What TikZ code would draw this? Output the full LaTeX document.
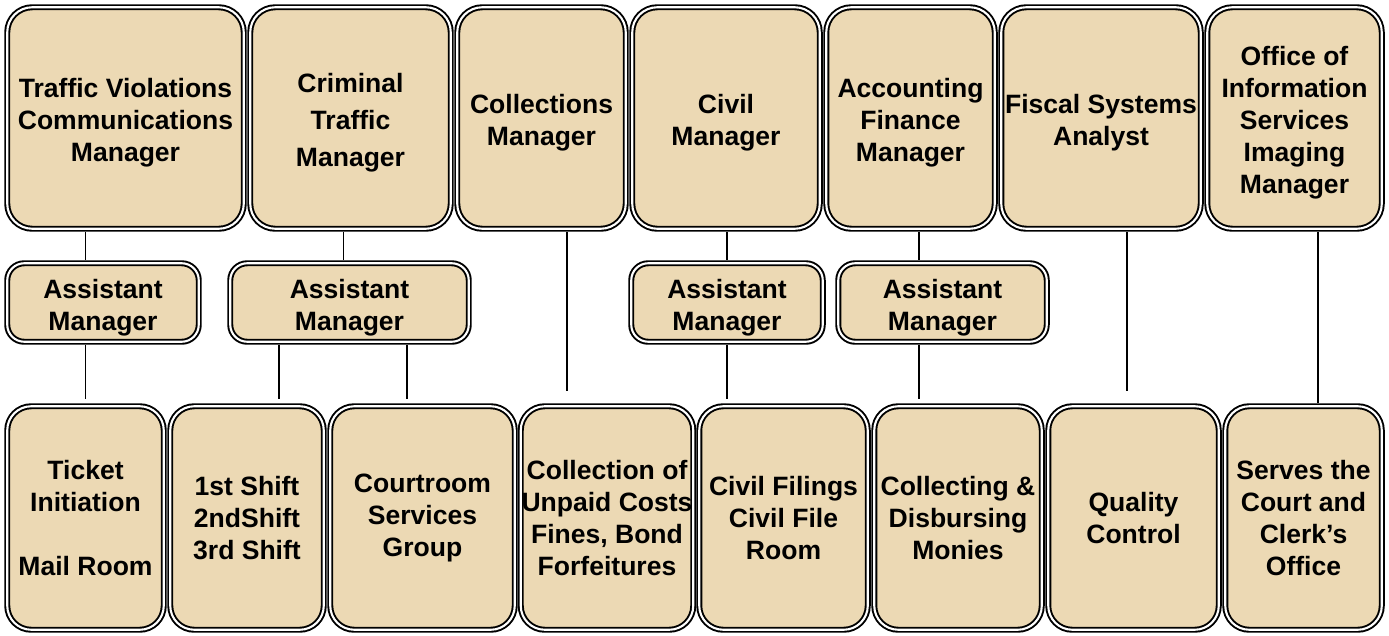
\documentclass[tikz,border=0pt]{standalone}
\usepackage{fontspec}
\setmainfont{Liberation Sans}
\usetikzlibrary{positioning}
\definecolor{parch}{RGB}{236,217,180}
\newcommand{\lift}{\rule{0pt}{16.5pt}}
\begin{document}
\begin{tikzpicture}[
    box/.style={draw=black, double=white, line width=1.1pt,
      double distance=1.2pt, fill=parch, outer sep=0.065cm,
      inner sep=0pt, align=center,
      font=\fontsize{15.1}{18.2}\selectfont\bfseries},
    mgr/.style={box, rounded corners=0.5cm, minimum height=4.43cm},
    asst/.style={box, rounded corners=0.34cm, minimum height=1.57cm},
    unit/.style={box, rounded corners=0.48cm, minimum height=4.47cm},
    link/.style={line width=0.8pt}]
  \useasboundingbox (0, 0) rectangle (27.78, -12.7);
  \pgfmathsetmacro{\ytop}{-2.36}
  \pgfmathsetmacro{\yas}{-6.05}
  \pgfmathsetmacro{\ybot}{-10.36}
  % managers
  \node[mgr, minimum width=4.73cm] (tv) at (2.51, \ytop)
       {\lift Traffic Violations\\Communications\\Manager};
  \node[mgr, minimum width=4.01cm] (ct) at (7.01, \ytop)
       {\lift Criminal\\[3pt]Traffic\\[3pt]Manager};
  \node[mgr, minimum width=3.37cm] (col) at (10.83, \ytop)
       {\lift Collections\\Manager};
  \node[mgr, minimum width=3.75cm] (civ) at (14.52, \ytop)
       {\lift Civil\\Manager};
  \node[mgr, minimum width=3.37cm] (acc) at (18.21, \ytop)
       {\lift Accounting\\Finance\\Manager};
  \node[mgr, minimum width=3.99cm] (fis) at (22.02, \ytop)
       {\lift Fiscal Systems\\Analyst};
  \node[mgr, minimum width=3.49cm] (ois) at (25.89, \ytop)
       {\lift Office of\\Information\\Services\\Imaging\\Manager};
  % assistants
  \node[asst, minimum width=3.83cm] (as1) at (2.06, \yas)
       {\lift Assistant\\Manager};
  \node[asst, minimum width=4.77cm] (as2) at (6.99, \yas)
       {\lift Assistant\\Manager};
  \node[asst, minimum width=3.83cm] (as3) at (14.54, \yas)
       {\lift Assistant\\Manager};
  \node[asst, minimum width=4.17cm] (as4) at (18.85, \yas)
       {\lift Assistant\\Manager};
  % units
  \node[unit, minimum width=3.13cm] (tick) at (1.71, \ybot)
       {Ticket\\Initiation\\~\\Mail Room};
  \node[unit, minimum width=3.07cm] (shift) at (4.94, \ybot)
       {1st Shift\\2ndShift\\3rd Shift};
  \node[unit, minimum width=3.69cm] (court) at (8.45, \ybot)
       {Courtroom\\Services\\Group};
  \node[unit, minimum width=3.45cm] (unpaid) at (12.14, \ybot)
       {Collection of\\Unpaid Costs\\Fines, Bond\\Forfeitures};
  \node[unit, minimum width=3.37cm] (filing) at (15.67, \ybot)
       {Civil Filings\\Civil File\\Room};
  \node[unit, minimum width=3.35cm] (monies) at (19.16, \ybot)
       {Collecting \&\\Disbursing\\Monies};
  \node[unit, minimum width=3.41cm] (qual) at (22.67, \ybot)
       {Quality\\Control};
  \node[unit, minimum width=3.13cm] (serve) at (26.07, \ybot)
       {Serves the\\Court and\\Clerk’s\\Office};
  % connectors
  \draw[link] (tv.south -| tick.north) -- (as1.north -| tick.north);
  \draw[link, shorten >=0.08cm] (as1.south -| tick.north) -- (tick.north);
  \draw[link] ([xshift=-0.14cm]ct.south) -- ([xshift=-0.14cm]ct.south |- as2.north);
  \draw[link, shorten >=0.08cm]
  ([xshift=-1.41cm]as2.south) -- ([xshift=-1.41cm]as2.south |- shift.north);
  \draw[link, shorten >=0.08cm]
  ([xshift=1.15cm]as2.south) -- ([xshift=1.15cm]as2.south |- court.north);
  \draw[link, shorten >=0.24cm]
  ([xshift=0.51cm]col.south) -- ([xshift=0.51cm]col.south |- unpaid.north);
  \draw[link] (as3.north |- civ.south) -- (as3.north);
  \draw[link, shorten >=0.08cm] (as3.south) -- (as3.south |- filing.north);
  \draw[link] ([xshift=0.17cm]acc.south) -- ([xshift=0.17cm]acc.south |- as4.north);
  \draw[link, shorten >=0.08cm]
  ([xshift=0.17cm]acc.south |- as4.south) -- ([xshift=0.17cm]acc.south |- monies.north);
  \draw[link, shorten >=0.24cm]
  ([xshift=0.52cm]fis.south) -- ([xshift=0.52cm]fis.south |- qual.north);
  \draw[link] ([xshift=0.47cm]ois.south) -- ([xshift=0.47cm]ois.south |- serve.north);
\end{tikzpicture}
\end{document}
